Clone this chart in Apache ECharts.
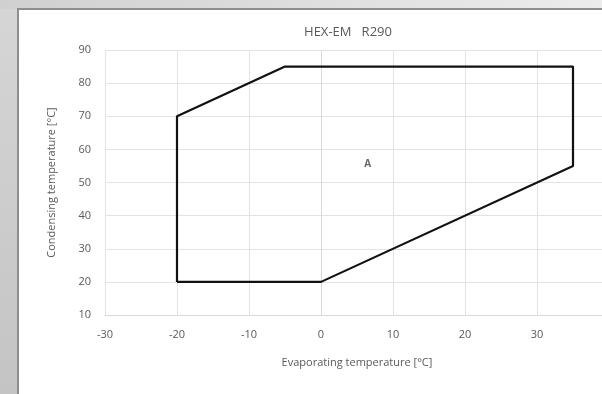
<!DOCTYPE html>
<html><head><meta charset="utf-8">
<script src="https://cdn.jsdelivr.net/npm/echarts@6/dist/echarts.min.js"></script>
<style>html,body{margin:0;padding:0;background:#d4d4d4;}#c{width:602px;height:394px;}</style>
</head><body><div id="c"></div>
<script>
const titleText = 'HEX-EM   R290';
const xName = 'Evaporating temperature [°C]';
const yName = 'Condensing temperature [°C]';
const evapTemps = [-20, -20, -5, 35, 35, 0, -20];
const condTemps = [20, 70, 85, 85, 55, 20, 20];
const areaLabel = ['A'];
const areaLabelPos = [6.5, 55.5];
const xRange = [-30, 40];
const yRange = [10, 90];

const chart = echarts.init(document.getElementById('c'), null, {renderer: 'canvas'});
const txt = '#595959';
const font = 'Open Sans';
chart.setOption({
  backgroundColor: 'transparent',
  animation: false,
  graphic: [
    {type: 'rect', z: -10, shape: {x: 0, y: 0, width: 18, height: 394}, style: {fill: new echarts.graphic.LinearGradient(0,0,0,1,[{offset:0,color:'#d6d6d6'},{offset:1,color:'#c4c4c4'}])}, silent: true},
    {type: 'rect', z: -10, shape: {x: 0, y: 0, width: 602, height: 9}, style: {fill: new echarts.graphic.LinearGradient(0,0,1,0,[{offset:0,color:'#d0d0d0'},{offset:1,color:'#ececec'}])}, silent: true},
    {type: 'rect', z: -9, shape: {x: 18, y: 9, width: 600, height: 400}, style: {fill: '#ffffff', stroke: '#8e8e8e', lineWidth: 2}, silent: true}
  ],
  title: {text: titleText, left: 343, top: 21, textAlign: 'center',
    textStyle: {color: txt, fontSize: 13, fontWeight: 'normal', fontFamily: font}},
  grid: {left: 105, top: 50, width: 504, height: 265, containLabel: false, outerBoundsMode: 'none'},
  xAxis: {
    type: 'value', min: xRange[0], max: xRange[1], interval: 10,
    name: xName, nameLocation: 'middle', nameGap: 42,
    nameTextStyle: {color: txt, fontSize: 11, fontFamily: font},
    axisLine: {show: true, lineStyle: {color: '#d9d9d9'}},
    axisTick: {show: false},
    axisLabel: {color: txt, fontSize: 11, fontFamily: font, margin: 14, showMaxLabel: true, hideOverlap: false},
    splitLine: {show: true, lineStyle: {color: '#e3e3e3'}}
  },
  yAxis: {
    type: 'value', min: yRange[0], max: yRange[1], interval: 10,
    name: yName, nameLocation: 'middle', nameGap: 48, nameRotate: 90,
    nameTextStyle: {color: txt, fontSize: 11, fontFamily: font},
    axisLine: {show: true, lineStyle: {color: '#d9d9d9'}},
    axisTick: {show: false},
    axisLabel: {color: txt, fontSize: 11, fontFamily: font, margin: 14},
    splitLine: {show: true, lineStyle: {color: '#e3e3e3'}}
  },
  series: [
    {type: 'line', data: evapTemps.map((x, i) => [x, condTemps[i]]),
      symbol: 'none', lineStyle: {color: '#111', width: 2.2}, z: 3},
    {type: 'scatter', data: [areaLabelPos], symbolSize: 0,
      label: {show: true, position: 'inside', formatter: areaLabel[0], color: '#404040', fontSize: 10, fontWeight: 'bold', fontFamily: font}}
  ]
});
</script></body></html>
